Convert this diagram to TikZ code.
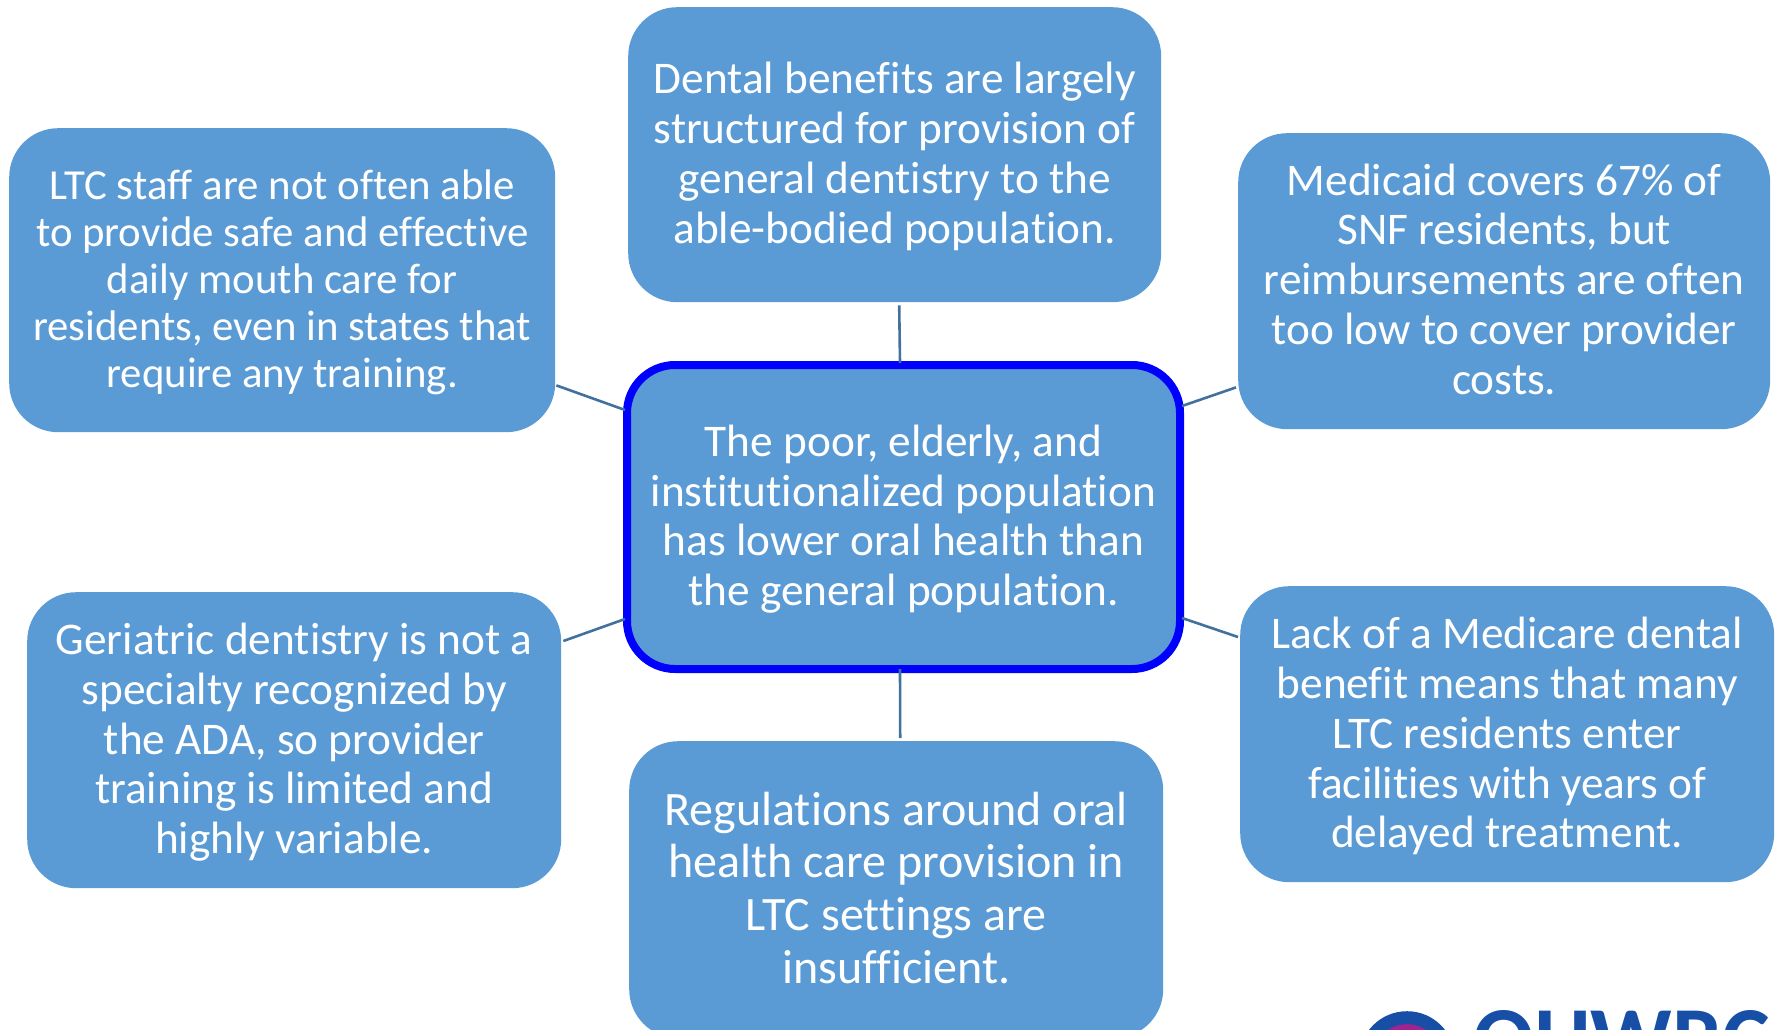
\documentclass[tikz,border=0pt]{standalone}
\usepackage{fontspec}
\setmainfont[Ligatures=NoCommon]{Carlito}
\usetikzlibrary{calc}
\definecolor{boxfill}{HTML}{5B9BD5}
\definecolor{linkcol}{HTML}{41719C}
\definecolor{logoblue}{HTML}{174EA6}
\definecolor{logomag}{HTML}{A3238E}
\newcommand\padtop[1]{\rule{0pt}{\dimexpr0.73em+#1pt\relax}}
\newcommand\padbot[1]{\rule[-#1pt]{0pt}{0pt}}
\tikzset{
  topic/.style={rectangle,rounded corners=49pt,fill=boxfill,text=white,align=center,inner sep=0pt,anchor=north west},
  hub/.style={topic,draw=blue,line width=8pt,rounded corners=48pt},
  link/.style={draw=linkcol,line width=2.6pt},
  fa/.style={font=\fontsize{42.8}{47}\selectfont},
  fb/.style={font=\fontsize{45.3}{49.8}\selectfont},
  fc/.style={font=\fontsize{48}{52.7}\selectfont}
}
\begin{document}
\begin{tikzpicture}[x=1pt,y=-1pt]
\useasboundingbox (0,0) rectangle (1777,1030);
\begin{scope}
\clip (0,0) rectangle (1777,1030);
\node[topic,fb,minimum width=533pt,minimum height=295pt] (top) at (628,7) {\padtop{1.6}Dental benefits are largely\\structured for provision of\\general dentistry to the\\able-bodied population.};
\node[topic,fa,minimum width=546pt,minimum height=304pt] (lt) at (9,128) {\padtop{3.6}LTC staff are not often able\\to provide safe and effective\\daily mouth care for\\residents, even in states that\\require any training.};
\node[topic,fb,minimum width=532pt,minimum height=296pt] (rt) at (1238,133) {Medicaid covers 67\% of\\SNF residents, but\\reimbursements are often\\too low to cover provider\\costs.\padbot{4.4}};
\node[topic,fb,minimum width=534pt,minimum height=296pt] (lb) at (27,592) {\padtop{2.4}Geriatric dentistry is not a\\specialty recognized by\\the ADA, so provider\\training is limited and\\highly variable.};
\node[topic,fb,minimum width=534pt,minimum height=296pt] (rb) at (1240,586) {\padtop{2.4}Lack of a Medicare dental\\benefit means that many\\LTC residents enter\\facilities with years of\\delayed treatment.};
\node[topic,fc,minimum width=534pt,minimum height=297pt] (bot) at (629,741) {Regulations around oral\\health care provision in\\LTC settings are\\insufficient.\padbot{4.4}};
\node[hub,fb,minimum width=553pt,minimum height=304pt] (hub) at (623,361) {\padtop{2.6}The poor, elderly, and\\institutionalized population\\has lower oral health than\\the general population.};
\coordinate (tA) at ($(top.south)+(4.5,3)$);
\coordinate (tB) at ($(hub.north)+(-3.5,2)$);
\coordinate (ltA) at ($(lt.south east)+(1,-47)$);
\coordinate (ltB) at ($(hub.north west)+(2,49)$);
\coordinate (rtA) at ($(rt.south west)+(-2,-42)$);
\coordinate (rtB) at ($(hub.north east)+(-2,45)$);
\coordinate (lbA) at ($(lb.north east)+(2,49)$);
\coordinate (lbB) at ($(hub.south west)+(2,-54)$);
\coordinate (rbA) at ($(rb.north west)+(-2,51)$);
\coordinate (rbB) at ($(hub.south east)+(-2,-55)$);
\coordinate (bA) at ($(bot.north)+(4,-3)$);
\coordinate (bB) at ($(hub.south)+(-3.5,-4)$);
\draw[link] (tA) -- (tB);
\draw[link] (ltA) -- (ltB);
\draw[link] (rtA) -- (rtB);
\draw[link] (lbA) -- (lbB);
\draw[link] (rbA) -- (rbB);
\draw[link] (bA) -- (bB);
\node[circle,fill=logoblue,minimum size=96pt,inner sep=0pt,anchor=north] (logoa) at (1407,1011) {};
\node[circle,fill=logomag,minimum size=68pt,inner sep=0pt,anchor=north] (logob) at (1407,1024) {};
\node[anchor=base west,inner sep=0pt,text=logoblue,font=\fontsize{90}{90}\selectfont\bfseries] (logot) at (1473,1069) {OHWRC};
\end{scope}
\end{tikzpicture}
\end{document}
